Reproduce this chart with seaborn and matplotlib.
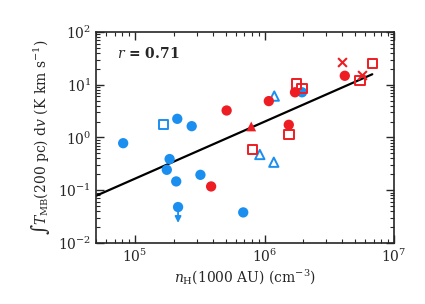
import numpy as np
import pandas as pd
import matplotlib
matplotlib.use('Agg')
import matplotlib.pyplot as plt
import seaborn as sns

# Data (n_H in cm^-3, integrated intensity in K km/s)
red_circle_x = [4.17e6, 1.72e6, 1.08e6, 5.1e5, 1.54e6, 3.87e5]
red_circle_y = [14.8, 7.2, 4.9, 3.25, 1.74, 0.118]
red_square_x = [6.8e6, 5.46e6, 1.76e6, 1.95e6, 1.55e6, 8.05e5]
red_square_y = [25.0, 12.0, 10.4, 8.4, 1.14, 0.59]
red_cross_x = [3.94e6, 5.7e6]
red_cross_y = [26.8, 15.6]
red_tri_x = [7.9e5]
red_tri_y = [1.62]
blue_circle_x = [1.95e6, 2.12e5, 2.74e5, 8.1e4, 1.85e5, 1.76e5, 3.2e5, 2.08e5, 2.15e5, 6.85e5]
blue_circle_y = [7.2, 2.26, 1.64, 0.78, 0.39, 0.244, 0.196, 0.147, 0.048, 0.038]
blue_square_x = [1.66e5]
blue_square_y = [1.74]
blue_tri_x = [1.19e6, 9.2e5, 1.18e6]
blue_tri_y = [6.1, 0.476, 0.34]
# upper limit (arrow) point
limit_x = 2.15e5
limit_y = 0.048

# power-law fit: log y = a + b log x
fit_a = -6.18
fit_b = 1.08
fit_x = [5e4, 6.8e6]
r_value = 0.71

RED = '#ee1d23'
BLUE = '#1b8ff0'

sns.set_style('ticks')
plt.rcParams['font.family'] = ['DejaVu Serif']
plt.rcParams['mathtext.fontset'] = 'dejavuserif'
plt.rcParams['font.size'] = 10

fig = plt.figure(figsize=(4.25, 3.04), dpi=100)
ax = fig.add_axes([0.226, 0.2007, 0.701, 0.694])

fit_df = pd.DataFrame({'x': fit_x,
                       'y': [10 ** (fit_a + fit_b * np.log10(v)) for v in fit_x]})
sns.lineplot(data=fit_df, x='x', y='y', color='black', lw=1.6, ax=ax, zorder=1)

def scat(xs, ys, color, marker, filled=True, size=48):
    df = pd.DataFrame({'x': xs, 'y': ys})
    if marker == 'x':
        sns.scatterplot(data=df, x='x', y='y', marker='x', color=color, s=size,
                        linewidth=1.5, ax=ax, zorder=3)
    elif filled:
        sns.scatterplot(data=df, x='x', y='y', marker=marker, color=color, s=size,
                        edgecolor='none', ax=ax, zorder=3)
    else:
        sns.scatterplot(data=df, x='x', y='y', marker=marker, facecolor='none',
                        edgecolor=color, s=size, linewidth=1.4, ax=ax, zorder=3)

scat(blue_circle_x, blue_circle_y, BLUE, 'o', size=55)
scat(blue_square_x, blue_square_y, BLUE, 's', filled=False, size=45)
scat(blue_tri_x, blue_tri_y, BLUE, '^', filled=False, size=45)
scat(red_circle_x, red_circle_y, RED, 'o', size=55)
scat(red_square_x, red_square_y, RED, 's', filled=False, size=45)
scat(red_cross_x, red_cross_y, RED, 'x', size=40)
scat(red_tri_x, red_tri_y, RED, '^', size=50)

ax.annotate('', xy=(limit_x, limit_y * 0.5), xytext=(limit_x, limit_y),
            arrowprops=dict(arrowstyle='-|>', color=BLUE, lw=1.3,
                            mutation_scale=9, shrinkA=0, shrinkB=0))

ax.set_xscale('log')
ax.set_yscale('log')
ax.set_xlim(5e4, 1e7)
ax.set_ylim(1e-2, 1e2)
ax.tick_params(which='both', direction='in', top=True, right=True, labelsize=10)
ax.tick_params(which='major', length=6, width=1)
ax.tick_params(which='minor', length=3, width=0.8)
for s in ax.spines.values():
    s.set_linewidth(1.2)

ax.text(0.07, 0.9, r'$r$ = %.2f' % r_value, transform=ax.transAxes,
        fontsize=10, fontweight='bold', va='center')

ax.set_xlabel(r'$n_{\rm H}$(1000 AU) (cm$^{-3}$)', fontsize=10, labelpad=2)
ax.set_ylabel(r'$\int T_{\rm MB}$(200 pc) d$v$ (K km s$^{-1}$)', fontsize=10, labelpad=4)

fig.savefig('out.png', dpi=100)
